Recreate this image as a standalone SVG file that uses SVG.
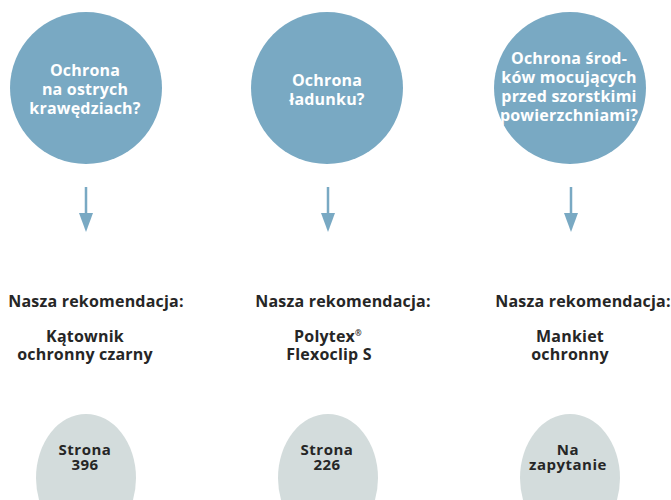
<svg xmlns="http://www.w3.org/2000/svg" width="671" height="500" viewBox="0 0 671 500">
<style>
.q{fill:#79a9c3}
.p{fill:#d3dcdc}
.t{font-family:"Open Sans","Noto Sans","DejaVu Sans",sans-serif;font-weight:700;font-size:16px;letter-spacing:0.2px;text-anchor:middle}
.b{font-size:15px;letter-spacing:0.5px}
.w{fill:#ffffff}
.d{fill:#262626}
.s{stroke:#79a9c3;stroke-width:2.5;fill:none}
.h{fill:#79a9c3}
</style>
<rect width="671" height="500" fill="#ffffff"/>
<g id="q1"><circle class="q" cx="86" cy="88" r="76"/>
<text class="t w"><tspan x="85" y="76">Ochrona</tspan><tspan x="85" y="95">na ostrych</tspan><tspan x="85" y="114">krawędziach?</tspan></text></g>
<g id="q2"><circle class="q" cx="327" cy="88" r="76"/>
<text class="t w"><tspan x="327" y="86">Ochrona</tspan><tspan x="327" y="105">ładunku?</tspan></text></g>
<g id="q3"><circle class="q" cx="570" cy="88" r="76"/>
<text class="t w"><tspan x="569" y="64">Ochrona środ-</tspan><tspan x="569" y="83">ków mocujących</tspan><tspan x="569" y="102">przed szorstkimi</tspan><tspan x="569" y="121">powierzchniami?</tspan></text></g>
<g id="connectors">
<path class="s" d="M86 187V215M328 187V215M571 187V215"/>
<polygon class="h" points="79,213 93,213 86,232"/>
<polygon class="h" points="321,213 335,213 328,232"/>
<polygon class="h" points="564,213 578,213 571,232"/>
</g>
<g id="r1"><text class="t d"><tspan x="96" y="307">Nasza rekomendacja:</tspan><tspan x="85" y="342">Kątownik</tspan><tspan x="85" y="360">ochronny czarny</tspan></text></g>
<g id="r2"><text class="t d"><tspan x="343" y="307">Nasza rekomendacja:</tspan><tspan x="328" y="342">Polytex<tspan font-size="8" dy="-6">®</tspan></tspan><tspan x="329" y="360">Flexoclip S</tspan></text></g>
<g id="r3"><text class="t d"><tspan x="583" y="307">Nasza rekomendacja:</tspan><tspan x="570" y="342">Mankiet</tspan><tspan x="570" y="360">ochronny</tspan></text></g>
<g id="p1"><ellipse class="p" cx="86" cy="478" rx="50" ry="64"/>
<text class="t b d"><tspan x="85" y="455">Strona</tspan><tspan x="85" y="470">396</tspan></text></g>
<g id="p2"><ellipse class="p" cx="328" cy="478" rx="50" ry="64"/>
<text class="t b d"><tspan x="327" y="455">Strona</tspan><tspan x="327" y="470">226</tspan></text></g>
<g id="p3"><ellipse class="p" cx="570" cy="478" rx="50" ry="64"/>
<text class="t b d"><tspan x="568" y="455">Na</tspan><tspan x="568" y="470">zapytanie</tspan></text></g>
</svg>
